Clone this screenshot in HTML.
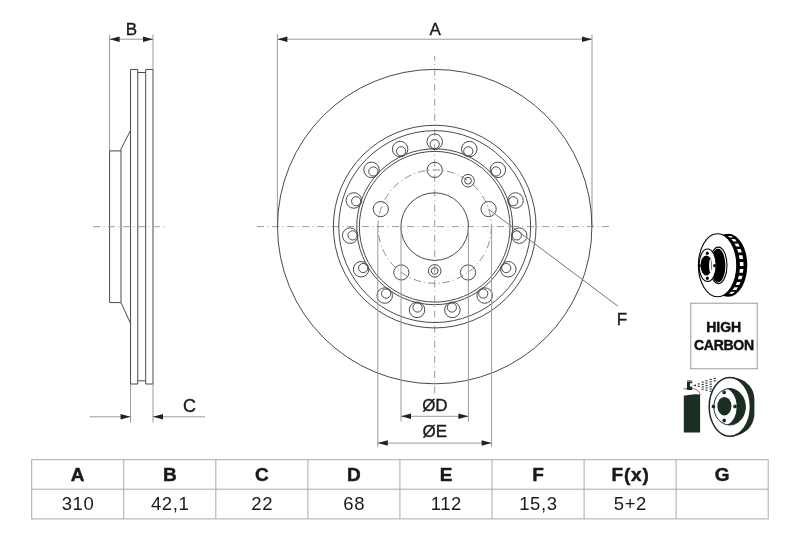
<!DOCTYPE html>
<html><head><meta charset="utf-8"><style>
html,body{margin:0;padding:0;background:#fff;}
svg{display:block;font-family:"Liberation Sans",sans-serif;will-change:transform;}
</style></head><body>
<svg width="800" height="533" viewBox="0 0 800 533">
<rect width="800" height="533" fill="#fff"/>
<line x1="109.6" y1="34.5" x2="109.6" y2="150.9" stroke="#9a9a9a" stroke-width="1" />
<line x1="109.6" y1="150.9" x2="109.6" y2="302.6" stroke="#4a4a4a" stroke-width="1" />
<line x1="109.6" y1="150.9" x2="121" y2="150.9" stroke="#4a4a4a" stroke-width="1" />
<line x1="121" y1="149" x2="121" y2="302.6" stroke="#4a4a4a" stroke-width="1" />
<line x1="109.6" y1="302.6" x2="121" y2="302.6" stroke="#4a4a4a" stroke-width="1" />
<line x1="121" y1="149" x2="130.55" y2="130.5" stroke="#4a4a4a" stroke-width="1" />
<line x1="121" y1="302.6" x2="130.55" y2="323.4" stroke="#4a4a4a" stroke-width="1" />
<line x1="130.55" y1="69.45" x2="130.55" y2="384" stroke="#4a4a4a" stroke-width="1" />
<line x1="153" y1="34.5" x2="153" y2="69.45" stroke="#9a9a9a" stroke-width="1" />
<line x1="153" y1="69.45" x2="153" y2="384" stroke="#4a4a4a" stroke-width="1" />
<line x1="137.8" y1="69.45" x2="137.8" y2="384" stroke="#4a4a4a" stroke-width="1" />
<line x1="145.7" y1="69.45" x2="145.7" y2="384" stroke="#4a4a4a" stroke-width="1" />
<line x1="130.55" y1="69.45" x2="137.8" y2="69.45" stroke="#4a4a4a" stroke-width="1" />
<line x1="145.7" y1="69.45" x2="153" y2="69.45" stroke="#4a4a4a" stroke-width="1" />
<line x1="137.8" y1="72.5" x2="145.7" y2="72.5" stroke="#4a4a4a" stroke-width="1" />
<line x1="130.55" y1="384" x2="137.8" y2="384" stroke="#4a4a4a" stroke-width="1" />
<line x1="145.7" y1="384" x2="153" y2="384" stroke="#4a4a4a" stroke-width="1" />
<line x1="137.8" y1="380.8" x2="145.7" y2="380.8" stroke="#4a4a4a" stroke-width="1" />
<line x1="109.6" y1="39.2" x2="153" y2="39.2" stroke="#9a9a9a" stroke-width="1" />
<polygon points="109.6,39.2 119.6,36.45 119.6,41.95" fill="#222"/>
<polygon points="153,39.2 143,41.95 143,36.45" fill="#222"/>
<text x="131.3" y="34.7" font-size="17" font-weight="normal" text-anchor="middle" fill="#1a1a1a" stroke="#1a1a1a" stroke-width="0.35">B</text>
<line x1="93" y1="226.7" x2="165" y2="226.7" stroke="#9c9c9c" stroke-width="1" stroke-dasharray="7 3.5 1 3.5"/>
<line x1="130.55" y1="384" x2="130.55" y2="422.5" stroke="#9a9a9a" stroke-width="1" />
<line x1="153" y1="384" x2="153" y2="422.5" stroke="#9a9a9a" stroke-width="1" />
<line x1="89.5" y1="416.8" x2="130.55" y2="416.8" stroke="#9a9a9a" stroke-width="1" />
<line x1="153" y1="416.8" x2="205" y2="416.8" stroke="#9a9a9a" stroke-width="1" />
<polygon points="130.55,416.8 120.55,419.55 120.55,414.05" fill="#222"/>
<polygon points="153,416.8 163,414.05 163,419.55" fill="#222"/>
<text x="189.6" y="411.6" font-size="18" font-weight="normal" text-anchor="middle" fill="#1a1a1a" stroke="#1a1a1a" stroke-width="0.35">C</text>
<line x1="277.4" y1="34.2" x2="277.4" y2="226.6" stroke="#9a9a9a" stroke-width="1" />
<line x1="592" y1="34.5" x2="592" y2="226.6" stroke="#9a9a9a" stroke-width="1" />
<line x1="277.4" y1="39.2" x2="592" y2="39.2" stroke="#9a9a9a" stroke-width="1" />
<polygon points="277.4,39.2 287.4,36.45 287.4,41.95" fill="#222"/>
<polygon points="592,39.2 582,41.95 582,36.45" fill="#222"/>
<text x="435.2" y="34.7" font-size="17" font-weight="normal" text-anchor="middle" fill="#1a1a1a" stroke="#1a1a1a" stroke-width="0.35">A</text>
<line x1="257" y1="226.6" x2="612" y2="226.6" stroke="#9c9c9c" stroke-width="1" stroke-dasharray="7 3.5 1 3.5"/>
<line x1="434.7" y1="55.7" x2="434.7" y2="393.4" stroke="#9c9c9c" stroke-width="1" stroke-dasharray="7.2 3.3 1 3.62" stroke-dashoffset="2.2"/>
<circle cx="434.7" cy="226.6" r="157.2" stroke="#4a4a4a" stroke-width="1" fill="none" />
<circle cx="434.7" cy="226.6" r="101.35" stroke="#4a4a4a" stroke-width="1" fill="none" />
<circle cx="434.7" cy="226.6" r="95.95" stroke="#4a4a4a" stroke-width="1" fill="none" />
<circle cx="434.7" cy="226.75" r="77.95" stroke="#4a4a4a" stroke-width="1" fill="none" />
<circle cx="434.7" cy="226.75" r="75.35" stroke="#4a4a4a" stroke-width="1" fill="none" />
<circle cx="434.7" cy="141.75" r="7.75" stroke="#4a4a4a" stroke-width="1" fill="none" />
<circle cx="434.7" cy="144.15" r="4.6" stroke="#4a4a4a" stroke-width="1" fill="none" />
<circle cx="400.13" cy="149.1" r="7.75" stroke="#4a4a4a" stroke-width="1" fill="none" />
<circle cx="401.1" cy="151.29" r="4.6" stroke="#4a4a4a" stroke-width="1" fill="none" />
<circle cx="371.53" cy="169.87" r="7.75" stroke="#4a4a4a" stroke-width="1" fill="none" />
<circle cx="373.32" cy="171.48" r="4.6" stroke="#4a4a4a" stroke-width="1" fill="none" />
<circle cx="353.86" cy="200.48" r="7.75" stroke="#4a4a4a" stroke-width="1" fill="none" />
<circle cx="356.14" cy="201.23" r="4.6" stroke="#4a4a4a" stroke-width="1" fill="none" />
<circle cx="350.17" cy="235.63" r="7.75" stroke="#4a4a4a" stroke-width="1" fill="none" />
<circle cx="352.55" cy="235.38" r="4.6" stroke="#4a4a4a" stroke-width="1" fill="none" />
<circle cx="361.09" cy="269.25" r="7.75" stroke="#4a4a4a" stroke-width="1" fill="none" />
<circle cx="363.17" cy="268.05" r="4.6" stroke="#4a4a4a" stroke-width="1" fill="none" />
<circle cx="384.74" cy="295.52" r="7.75" stroke="#4a4a4a" stroke-width="1" fill="none" />
<circle cx="386.15" cy="293.57" r="4.6" stroke="#4a4a4a" stroke-width="1" fill="none" />
<circle cx="417.03" cy="309.89" r="7.75" stroke="#4a4a4a" stroke-width="1" fill="none" />
<circle cx="417.53" cy="307.54" r="4.6" stroke="#4a4a4a" stroke-width="1" fill="none" />
<circle cx="452.37" cy="309.89" r="7.75" stroke="#4a4a4a" stroke-width="1" fill="none" />
<circle cx="451.87" cy="307.54" r="4.6" stroke="#4a4a4a" stroke-width="1" fill="none" />
<circle cx="484.66" cy="295.52" r="7.75" stroke="#4a4a4a" stroke-width="1" fill="none" />
<circle cx="483.25" cy="293.57" r="4.6" stroke="#4a4a4a" stroke-width="1" fill="none" />
<circle cx="508.31" cy="269.25" r="7.75" stroke="#4a4a4a" stroke-width="1" fill="none" />
<circle cx="506.23" cy="268.05" r="4.6" stroke="#4a4a4a" stroke-width="1" fill="none" />
<circle cx="519.23" cy="235.63" r="7.75" stroke="#4a4a4a" stroke-width="1" fill="none" />
<circle cx="516.85" cy="235.38" r="4.6" stroke="#4a4a4a" stroke-width="1" fill="none" />
<circle cx="515.54" cy="200.48" r="7.75" stroke="#4a4a4a" stroke-width="1" fill="none" />
<circle cx="513.26" cy="201.23" r="4.6" stroke="#4a4a4a" stroke-width="1" fill="none" />
<circle cx="497.87" cy="169.87" r="7.75" stroke="#4a4a4a" stroke-width="1" fill="none" />
<circle cx="496.08" cy="171.48" r="4.6" stroke="#4a4a4a" stroke-width="1" fill="none" />
<circle cx="469.27" cy="149.1" r="7.75" stroke="#4a4a4a" stroke-width="1" fill="none" />
<circle cx="468.3" cy="151.29" r="4.6" stroke="#4a4a4a" stroke-width="1" fill="none" />
<circle cx="434.7" cy="226.6" r="56.7" stroke="#8e8e8e" stroke-width="1" fill="none" stroke-dasharray="7.5 3 1.2 3"/>
<circle cx="434.7" cy="169.9" r="7.6" stroke="#4a4a4a" stroke-width="1" fill="none" />
<circle cx="488.62" cy="209.08" r="7.6" stroke="#4a4a4a" stroke-width="1" fill="none" />
<circle cx="468.03" cy="272.47" r="7.6" stroke="#4a4a4a" stroke-width="1" fill="none" />
<circle cx="401.37" cy="272.47" r="7.6" stroke="#4a4a4a" stroke-width="1" fill="none" />
<circle cx="380.78" cy="209.08" r="7.6" stroke="#4a4a4a" stroke-width="1" fill="none" />
<circle cx="468.03" cy="180.73" r="6.3" stroke="#4a4a4a" stroke-width="1" fill="none" />
<circle cx="468.03" cy="180.73" r="3.4" stroke="#4a4a4a" stroke-width="1" fill="none" />
<circle cx="434.7" cy="270.9" r="6.3" stroke="#4a4a4a" stroke-width="1" fill="none" />
<circle cx="434.7" cy="270.9" r="3.4" stroke="#4a4a4a" stroke-width="1" fill="none" />
<circle cx="434.7" cy="226.6" r="33.8" stroke="#4a4a4a" stroke-width="1" fill="none" />
<line x1="488.6" y1="209.2" x2="617.8" y2="306.1" stroke="#777" stroke-width="1" />
<text x="622" y="325" font-size="17" font-weight="normal" text-anchor="middle" fill="#1a1a1a" stroke="#1a1a1a" stroke-width="0.35">F</text>
<line x1="401" y1="226.6" x2="401" y2="421.6" stroke="#9a9a9a" stroke-width="1" />
<line x1="468.4" y1="226.6" x2="468.4" y2="421.6" stroke="#9a9a9a" stroke-width="1" />
<line x1="401" y1="416.3" x2="468.4" y2="416.3" stroke="#9a9a9a" stroke-width="1" />
<polygon points="401,416.3 411,413.55 411,419.05" fill="#222"/>
<polygon points="468.4,416.3 458.4,419.05 458.4,413.55" fill="#222"/>
<text x="434.9" y="410.5" font-size="17" font-weight="normal" text-anchor="middle" fill="#1a1a1a" stroke="#1a1a1a" stroke-width="0.35">ØD</text>
<line x1="377.8" y1="226.6" x2="377.8" y2="446.9" stroke="#9a9a9a" stroke-width="1" />
<line x1="491.6" y1="226.6" x2="491.6" y2="446.9" stroke="#9a9a9a" stroke-width="1" />
<line x1="377.8" y1="443.1" x2="491.6" y2="443.1" stroke="#9a9a9a" stroke-width="1" />
<polygon points="377.8,443.1 387.8,440.35 387.8,445.85" fill="#222"/>
<polygon points="491.6,443.1 481.6,445.85 481.6,440.35" fill="#222"/>
<text x="434.9" y="437" font-size="17" font-weight="normal" text-anchor="middle" fill="#1a1a1a" stroke="#1a1a1a" stroke-width="0.35">ØE</text>
<rect x="31.7" y="459.7" width="736.5" height="59.2" fill="none" stroke="#aaaaaa" stroke-width="1"/>
<line x1="31.7" y1="489.2" x2="768.2" y2="489.2" stroke="#aaaaaa" stroke-width="1" />
<line x1="123.76" y1="459.7" x2="123.76" y2="518.9" stroke="#aaaaaa" stroke-width="1" />
<line x1="215.82" y1="459.7" x2="215.82" y2="518.9" stroke="#aaaaaa" stroke-width="1" />
<line x1="307.89" y1="459.7" x2="307.89" y2="518.9" stroke="#aaaaaa" stroke-width="1" />
<line x1="399.95" y1="459.7" x2="399.95" y2="518.9" stroke="#aaaaaa" stroke-width="1" />
<line x1="492.01" y1="459.7" x2="492.01" y2="518.9" stroke="#aaaaaa" stroke-width="1" />
<line x1="584.08" y1="459.7" x2="584.08" y2="518.9" stroke="#aaaaaa" stroke-width="1" />
<line x1="676.14" y1="459.7" x2="676.14" y2="518.9" stroke="#aaaaaa" stroke-width="1" />
<text x="77.73" y="481.3" font-size="19" font-weight="bold" text-anchor="middle" fill="#1a1a1a" stroke="#1a1a1a" stroke-width="0.45">A</text>
<text x="78.03" y="509.8" font-size="18.5" font-weight="normal" text-anchor="middle" fill="#1a1a1a" letter-spacing="0.6">310</text>
<text x="169.79" y="481.3" font-size="19" font-weight="bold" text-anchor="middle" fill="#1a1a1a" stroke="#1a1a1a" stroke-width="0.45">B</text>
<text x="170.09" y="509.8" font-size="18.5" font-weight="normal" text-anchor="middle" fill="#1a1a1a" letter-spacing="0.6">42,1</text>
<text x="261.86" y="481.3" font-size="19" font-weight="bold" text-anchor="middle" fill="#1a1a1a" stroke="#1a1a1a" stroke-width="0.45">C</text>
<text x="262.16" y="509.8" font-size="18.5" font-weight="normal" text-anchor="middle" fill="#1a1a1a" letter-spacing="0.6">22</text>
<text x="353.92" y="481.3" font-size="19" font-weight="bold" text-anchor="middle" fill="#1a1a1a" stroke="#1a1a1a" stroke-width="0.45">D</text>
<text x="354.22" y="509.8" font-size="18.5" font-weight="normal" text-anchor="middle" fill="#1a1a1a" letter-spacing="0.6">68</text>
<text x="445.98" y="481.3" font-size="19" font-weight="bold" text-anchor="middle" fill="#1a1a1a" stroke="#1a1a1a" stroke-width="0.45">E</text>
<text x="446.28" y="509.8" font-size="18.5" font-weight="normal" text-anchor="middle" fill="#1a1a1a" letter-spacing="0.6">112</text>
<text x="538.04" y="481.3" font-size="19" font-weight="bold" text-anchor="middle" fill="#1a1a1a" stroke="#1a1a1a" stroke-width="0.45">F</text>
<text x="538.34" y="509.8" font-size="18.5" font-weight="normal" text-anchor="middle" fill="#1a1a1a" letter-spacing="0.6">15,3</text>
<text x="630.51" y="481.3" font-size="19" font-weight="bold" text-anchor="middle" fill="#1a1a1a" letter-spacing="0.8" stroke="#1a1a1a" stroke-width="0.45">F(x)</text>
<text x="630.41" y="509.8" font-size="18.5" font-weight="normal" text-anchor="middle" fill="#1a1a1a" letter-spacing="0.6">5+2</text>
<text x="722.17" y="481.3" font-size="19" font-weight="bold" text-anchor="middle" fill="#1a1a1a" stroke="#1a1a1a" stroke-width="0.45">G</text>
<rect x="690.8" y="303.2" width="66.4" height="65.6" fill="none" stroke="#9a9a9a" stroke-width="1"/>
<text x="723.7" y="332.3" font-size="14" font-weight="bold" text-anchor="middle" fill="#111" stroke="#111" stroke-width="0.45">HIGH</text>
<text x="723.9" y="349.9" font-size="14" font-weight="bold" text-anchor="middle" fill="#111" letter-spacing="-0.3" stroke="#111" stroke-width="0.45">CARBON</text>
<ellipse cx="728.1" cy="265.3" rx="19.2" ry="31.5" fill="#000" stroke="none" stroke-width="1"/>
<ellipse cx="717.6" cy="265.3" rx="19.2" ry="31.5" fill="#fff" stroke="#000" stroke-width="1.1"/>
<polygon points="727.58,235.89 729.77,237.54 733.37,237.54 731.18,235.89" fill="#fff"/>
<polygon points="731.33,239.06 733.25,241.45 736.85,241.45 734.93,239.06" fill="#fff"/>
<polygon points="734.56,243.5 736.11,246.52 739.71,246.52 738.16,243.5" fill="#fff"/>
<polygon points="737.12,248.98 738.24,252.49 741.84,252.49 740.72,248.98" fill="#fff"/>
<polygon points="738.9,255.25 739.52,259.07 743.12,259.07 742.5,255.25" fill="#fff"/>
<polygon points="739.79,262.01 739.9,265.96 743.5,265.96 743.39,262.01" fill="#fff"/>
<polygon points="739.77,268.92 739.35,272.81 742.95,272.81 743.37,268.92" fill="#fff"/>
<polygon points="738.83,275.66 737.9,279.31 741.5,279.31 742.43,275.66" fill="#fff"/>
<polygon points="737.02,281.9 735.62,285.12 739.22,285.12 740.62,281.9" fill="#fff"/>
<polygon points="734.42,287.34 732.63,289.99 736.23,289.99 738.02,287.34" fill="#fff"/>
<polygon points="731.16,291.72 729.06,293.66 732.66,293.66 734.76,291.72" fill="#fff"/>
<ellipse cx="718.4" cy="265.4" rx="8.6" ry="18.3" fill="#fff" stroke="#000" stroke-width="1.1"/>
<ellipse cx="718" cy="265.6" rx="7.4" ry="16.9" fill="#000" stroke="none" stroke-width="1"/>
<ellipse cx="707.6" cy="265.2" rx="8.6" ry="16.2" fill="#fff" stroke="#000" stroke-width="1.1"/>
<ellipse cx="706.3" cy="265.4" rx="5.8" ry="10" fill="#000" stroke="none" stroke-width="1"/>
<ellipse cx="710.3" cy="265.6" rx="1.2" ry="6.6" fill="#fff" stroke="none" stroke-width="1"/>
<ellipse cx="707.3" cy="253.3" rx="1.5" ry="1.7" fill="#000" stroke="none" stroke-width="1"/>
<ellipse cx="714.6" cy="265.6" rx="1.5" ry="1.7" fill="#000" stroke="none" stroke-width="1"/>
<ellipse cx="707.3" cy="278.3" rx="1.5" ry="1.7" fill="#000" stroke="none" stroke-width="1"/>
<ellipse cx="699.4" cy="265.6" rx="1.5" ry="1.7" fill="#000" stroke="none" stroke-width="1"/>
<path d="M729.8,377.2 C741,377.2 754.4,384 754.4,400 L754.4,413 C754.4,429 741,436.5 729.8,436.5 Z" fill="#1b2e22"/>
<ellipse cx="729.8" cy="406.8" rx="20.6" ry="29.4" fill="#fff" stroke="#1b2e22" stroke-width="1.5"/>
<ellipse cx="729.6" cy="406.8" rx="15.8" ry="18.2" fill="#1b2e22" stroke="none" stroke-width="1"/>
<ellipse cx="725" cy="406.8" rx="11.6" ry="18" fill="#fff" stroke="none" stroke-width="1"/>
<ellipse cx="729.6" cy="406.8" rx="15.8" ry="18.2" fill="none" stroke="#1b2e22" stroke-width="1.0"/>
<ellipse cx="724.4" cy="406.2" rx="7" ry="9.3" fill="#1b2e22" stroke="none" stroke-width="1"/>
<ellipse cx="724.2" cy="392.4" rx="1.8" ry="1.9" fill="#1b2e22" stroke="none" stroke-width="1"/>
<ellipse cx="735" cy="406.4" rx="1.8" ry="1.9" fill="#1b2e22" stroke="none" stroke-width="1"/>
<ellipse cx="724.2" cy="420.5" rx="1.8" ry="1.9" fill="#1b2e22" stroke="none" stroke-width="1"/>
<ellipse cx="713.4" cy="406.4" rx="1.8" ry="1.9" fill="#1b2e22" stroke="none" stroke-width="1"/>
<path d="M683.8,395.8 Q692,393.6 700.1,394.4 L700.1,432.6 L683.8,432.6 Z" fill="#1b2e22"/>
<path d="M683.4,388.8 L692.5,388.4 Q698.5,389.2 700.3,394.6" fill="none" stroke="#555" stroke-width="0.8"/>
<rect x="687.0" y="381.6" width="5.2" height="8.4" fill="#1b2e22"/>
<rect x="687.0" y="380.3" width="5.2" height="1.3" fill="#666"/>
<rect x="690.0" y="383.2" width="2.2" height="3.4" fill="#fff"/>
<polygon points="693.2,385.4 695.9,384.3 695.9,386.6" fill="#1b2e22"/>
<rect x="697.6" y="383.3" width="2.2" height="1.2" fill="#3a4a40"/>
<rect x="697.6" y="385.7" width="2.2" height="1.2" fill="#3a4a40"/>
<rect x="701.6" y="381.5" width="2.2" height="1.2" fill="#3a4a40"/>
<rect x="701.6" y="383.9" width="2.2" height="1.2" fill="#3a4a40"/>
<rect x="701.6" y="386.3" width="2.2" height="1.2" fill="#3a4a40"/>
<rect x="701.6" y="388.7" width="2.2" height="1.2" fill="#3a4a40"/>
<rect x="705.4" y="380.1" width="2.2" height="1.2" fill="#3a4a40"/>
<rect x="705.4" y="382.5" width="2.2" height="1.2" fill="#3a4a40"/>
<rect x="705.4" y="384.9" width="2.2" height="1.2" fill="#3a4a40"/>
<rect x="705.4" y="387.3" width="2.2" height="1.2" fill="#3a4a40"/>
<rect x="705.4" y="389.7" width="2.2" height="1.2" fill="#3a4a40"/>
<rect x="709.6" y="378.8" width="2.2" height="1.2" fill="#3a4a40"/>
<rect x="709.6" y="381.2" width="2.2" height="1.2" fill="#3a4a40"/>
<rect x="709.6" y="383.6" width="2.2" height="1.2" fill="#3a4a40"/>
<rect x="709.6" y="386" width="2.2" height="1.2" fill="#3a4a40"/>
<rect x="709.6" y="388.4" width="2.2" height="1.2" fill="#3a4a40"/>
<rect x="709.6" y="390.8" width="2.2" height="1.2" fill="#3a4a40"/>
<rect x="713.6" y="377.9" width="2.2" height="1.2" fill="#3a4a40"/>
<rect x="713.6" y="380.3" width="2.2" height="1.2" fill="#3a4a40"/>
</svg>
</body></html>
